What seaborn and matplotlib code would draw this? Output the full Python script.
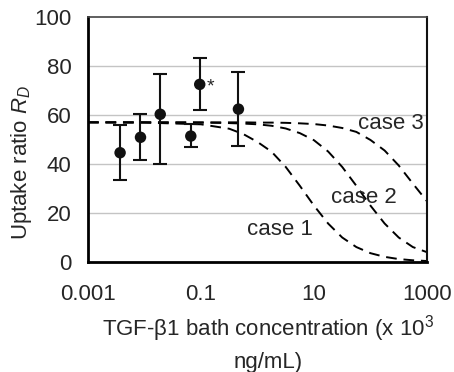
import numpy as np
import pandas as pd
import matplotlib
matplotlib.use("Agg")
import matplotlib.pyplot as plt
from matplotlib.ticker import FixedLocator, NullFormatter
import seaborn as sns

conc = [0.0037, 0.0085, 0.019, 0.066, 0.095, 0.46]
ratio = [44.6, 50.9, 60.3, 51.4, 72.5, 62.4]
err_hi = [55.9, 60.3, 76.7, 56.2, 83.1, 77.7]
err_lo = [33.5, 41.6, 40.0, 47.1, 62.0, 47.5]

# model curves
curve_conc = [0.001, 0.01, 0.1, 0.316, 0.562, 1, 1.78, 3.16, 5.62, 10,
              17.8, 31.6, 56.2, 100, 178, 316, 562, 1000]
case1 = [57.0, 56.9, 56.2, 54.4, 52.2, 49.0, 45.0, 38.8, 31.1, 23.0,
         15.7, 10.0, 6.1, 3.6, 2.1, 1.2, 0.7, 0.4]
case2 = [57.0, 57.0, 56.9, 56.7, 56.5, 56.2, 55.6, 54.5, 52.6, 49.7,
         45.1, 38.8, 31.1, 23.0, 15.7, 10.0, 6.1, 4.0]
case3 = [57.0, 57.0, 57.0, 57.0, 57.0, 56.9, 56.9, 56.8, 56.6, 56.3,
         55.7, 54.7, 53.1, 49.8, 45.5, 39.4, 32.0, 24.8]

xticks = [0.001, 0.1, 10, 1000]
xtick_labels = ["0.001", "0.1", "10", "1000"]
yticks = [0, 20, 40, 60, 80, 100]
minor_mult = [4, 9, 15, 22, 30, 37, 45, 53, 62]

sns.set_style("white")
plt.rcParams['font.family'] = ['Liberation Sans', 'DejaVu Sans']
plt.rcParams['mathtext.fontset'] = 'custom'
plt.rcParams['mathtext.rm'] = 'Liberation Sans'
plt.rcParams['mathtext.it'] = 'Liberation Sans:italic'

fs = 16
fig = plt.figure(figsize=(4.54, 3.72), dpi=100)
ax = fig.add_axes([0.1938, 0.2957, 0.7467, 0.6586])

curves = pd.DataFrame({"conc": curve_conc * 3,
                       "R": case1 + case2 + case3,
                       "case": ["case 1"] * 18 + ["case 2"] * 18 + ["case 3"] * 18})
for name, grp in curves.groupby("case"):
    sns.lineplot(data=grp, x="conc", y="R", ax=ax, color="black", lw=1.4,
                 estimator=None, sort=False, linestyle=(0, (5.5, 3.5)))

yerr = [np.array(ratio) - np.array(err_lo), np.array(err_hi) - np.array(ratio)]
ax.errorbar(conc, ratio, yerr=yerr, fmt="none", ecolor="#111111",
            elinewidth=1.5, capsize=5, capthick=1.5, zorder=3)
sns.scatterplot(x=conc, y=ratio, ax=ax, color="#111111", s=68,
                edgecolor="none", zorder=4)

ax.text(0.15, 71.4, "*", fontsize=14, ha="center", va="center")
ax.text(229, 56.7, "case 3", fontsize=fs, ha="center", va="center")
ax.text(76.7, 26.5, "case 2", fontsize=fs, ha="center", va="center")
ax.text(2.5, 13.1, "case 1", fontsize=fs, ha="center", va="center")

ax.set_xscale("log")
ax.set_xlim(0.001, 1000)
ax.set_ylim(0, 100)
ax.set_xticks(xticks)
ax.set_xticklabels(xtick_labels)
minors = [b * m for b in [0.001, 0.1, 10] for m in minor_mult]
ax.xaxis.set_minor_locator(FixedLocator(minors))
ax.xaxis.set_minor_formatter(NullFormatter())
ax.set_yticks(yticks)

for y in [20, 40, 60, 80]:
    ax.axhline(y, color="#c4c4c4", lw=1, zorder=0)

ax.tick_params(axis="x", which="major", direction="inout", length=12,
               width=1.6, labelsize=fs, pad=10)
ax.tick_params(axis="x", which="minor", direction="in", length=4, width=1.2)
ax.tick_params(axis="y", direction="in", length=7, width=1.3,
               labelsize=fs, pad=12)

for side in ["left", "bottom"]:
    ax.spines[side].set_linewidth(2)
    ax.spines[side].set_color("black")
ax.spines["right"].set_linewidth(1.5)
ax.spines["right"].set_color("#111111")
ax.spines["top"].set_linewidth(1.2)
ax.spines["top"].set_color("#444444")

ax.set_xlabel("TGF-\u03b21 bath concentration (x 10$^3$\nng/mL)",
              fontsize=fs, linespacing=1.45)
ax.xaxis.set_label_coords(0.531, -0.21)
ax.set_ylabel("Uptake ratio $R_D$", fontsize=fs)
ax.yaxis.set_label_coords(-0.16, 0.404)

fig.savefig("out.png", dpi=100)
plt.close()
